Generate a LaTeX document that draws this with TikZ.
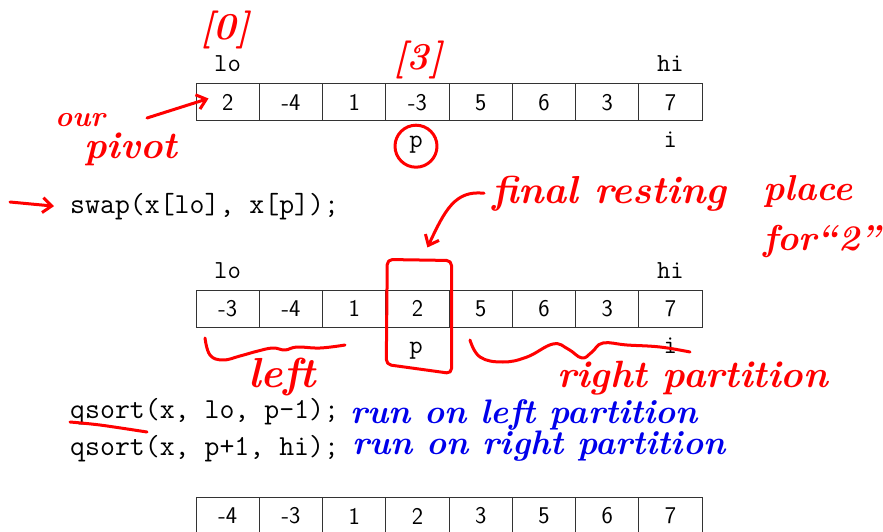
\documentclass[tikz,border=0pt]{standalone}
\usepackage{tikz}
\usepackage{xcolor}
\usetikzlibrary{arrows.meta}
\definecolor{inkred}{RGB}{255,0,0}
\definecolor{inkblue}{RGB}{0,0,235}

\tikzset{
  cell/.style={draw=black!80, line width=1pt, minimum width=63.25pt, minimum height=37pt, inner sep=0pt, font=\sffamily\fontsize{24}{24}\selectfont},
  lbl/.style={font=\ttfamily\fontsize{26}{26}\selectfont, inner sep=0pt, anchor=base},
  code/.style={font=\ttfamily\fontsize{29}{29}\selectfont, inner sep=0pt, anchor=base west},
  redink/.style={inkred, line width=3pt, line cap=round, line join=round, >={Straight Barb[length=9pt, width=15pt]}},
  hand/.style={font=\bfseries\itshape\fontsize{#1}{#1}\selectfont, inner sep=0pt, anchor=base west},
  hand/.default=38,
}

\begin{document}
\begin{tikzpicture}[x=1pt, y=-1pt]
    \useasboundingbox (0,0) rectangle (883,532);

    % array before the swap
    \foreach \v [count=\i] in {2,-4,1,-3,5,6,3,7}
        \node[cell] at (164.4+63.25*\i, 102.5) (before\i) {\v};
    \node[lbl] at (227.6, 72) (lo1) {lo};
    \node[lbl] at (670.4, 72) (hi1) {hi};
    \node[lbl] at (416, 147) (p1) {p};
    \node[lbl] at (670.4, 147) (i1) {i};

    \node[code] at (70, 213) (swap) {swap(x[lo], x[p]);};

    % array after the swap
    \foreach \v [count=\i] in {-3,-4,1,2,5,6,3,7}
        \node[cell] at (164.4+63.25*\i, 308.5) (after\i) {\v};
    \node[lbl] at (227.6, 278) (lo2) {lo};
    \node[lbl] at (670.4, 278) (hi2) {hi};
    \node[lbl] at (416, 353) (p2) {p};
    \node[lbl] at (670.4, 353) (i2) {i};

    \node[code] at (70, 418) (qsortleft) {qsort(x, lo, p-1);};
    \node[code] at (70, 455) (qsortright) {qsort(x, p+1, hi);};

    % sorted array
    \foreach \v [count=\i] in {-4,-3,1,2,3,5,6,7}
        \node[cell] at (164.4+63.25*\i, 516) (done\i) {\v};

    % red notes
    \node[hand=38, inkred, anchor=center] at (225, 30) (idx0) {[0]};
    \node[hand=38, inkred, anchor=center] at (418, 60) (idx3) {[3]};
    \draw[redink] ([yshift=-2pt]p1.center) circle[radius=21];

    \node[hand=29, inkred] at (55, 127) (our) {our};
    \node[hand=38, inkred] at (84, 158) (pivot) {pivot};
    \coordinate (pivottail) at (147, 118);
    \draw[redink, ->] (pivottail) -- ([shift={(13,-4)}]before1.west);

    \coordinate (swaptail) at (10, 202);
    \draw[redink, ->] (swaptail) -- ([xshift=-16pt]swap.west);

    \node[hand=39, inkred] at (492, 203) (final) {final resting};
    \node[hand=36, inkred] at (763, 200) (place) {place};
    \node[hand=36, inkred] at (763, 250) (fortwo) {for``2''};
    \draw[redink, ->] ([xshift=-8pt]final.west) .. controls (455,190) and (445,210) .. ([shift={(10,-42)}]after4.north);

    \draw[redink, rounded corners=5pt] ([shift={(2,-30)}]after4.north west) -- ([shift={(2,-29)}]after4.north east)
        -- ([shift={(2,46)}]after4.south east) -- ([shift={(1,37)}]after4.south west) -- cycle;

    \draw[redink] plot[smooth, tension=0.7] coordinates {(205,338) (210,355) (223,360) (240,356) (258,351) (273,348) (285,350) (297,347) (320,348) (345,345)};
    \node[hand=42, inkred] at (248, 387) (leftlbl) {left};

    \draw[redink] plot[smooth, tension=0.7] coordinates {(470,340) (480,357) (503,362) (527,357) (553,344) (568,349) (582,358) (592,352) (603,343) (627,345) (660,347) (690,352)};
    \node[hand=38, inkred] at (557, 387) (rightlbl) {right partition};

    \draw[redink] plot[smooth] coordinates {(70,422) (100,425) (147,432)};

    % blue notes
    \node[hand=34, inkblue] at (350, 423) (runleft) {run on left partition};
    \node[hand=34, inkblue] at (352, 454) (runright) {run on right partition};
\end{tikzpicture}
\end{document}
